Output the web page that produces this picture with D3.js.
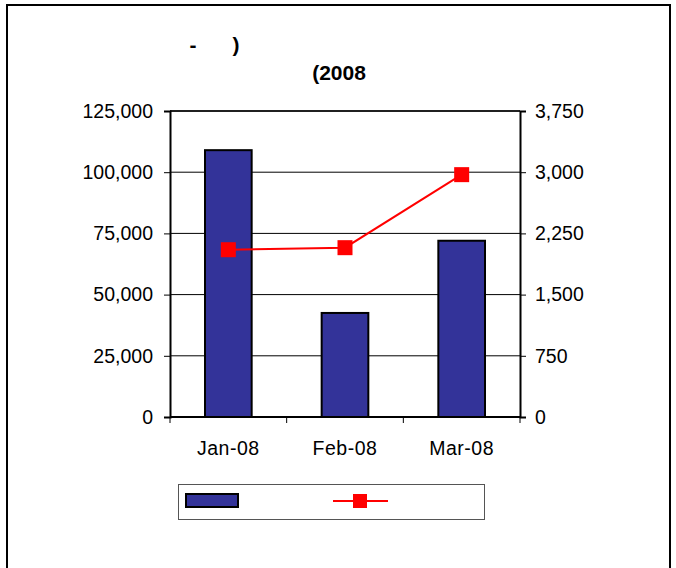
<html>

<head>
    <meta charset="UTF-8">
    <script src="https://d3js.org/d3.v7.min.js"></script>
    <style>
        body { margin: 0; background: #fff; }
        text { font-family: "Liberation Sans", Arial, sans-serif; }
    </style>
</head>

<body>
</body>
<script>
    // data
    var months = ["Jan-08", "Feb-08", "Mar-08"];
    var barValues = [109000, 42500, 72000];
    var lineValues = [2050, 2075, 2970];
    var leftTicks = [0, 25000, 50000, 75000, 100000, 125000];
    var rightTicks = [0, 750, 1500, 2250, 3000, 3750];

    var W = 676, H = 568;
    var plot = { left: 170, right: 520, top: 111, bottom: 417 };

    var svg = d3.select("body").append("svg")
        .attr("width", W)
        .attr("height", H);

    // outer frame (bottom edge runs off the page)
    svg.append("path")
        .attr("d", "M7,580 L7,5 L670,5 L670,580")
        .attr("fill", "none")
        .attr("stroke", "#000")
        .attr("stroke-width", 2);

    // title
    svg.append("text").attr("x", 193).attr("y", 52).attr("text-anchor", "middle")
        .style("font-size", "21px").style("font-weight", "bold").text("-");
    svg.append("text").attr("x", 236).attr("y", 52).attr("text-anchor", "middle")
        .style("font-size", "21px").style("font-weight", "bold").text(")");
    svg.append("text").attr("x", 339).attr("y", 80).attr("text-anchor", "middle")
        .style("font-size", "21px").style("font-weight", "bold").text("(2008");

    // scales
    var x = d3.scaleBand()
        .domain(months)
        .range([plot.left, plot.right])
        .paddingInner(0.6)
        .paddingOuter(0.3);
    var xStep = (plot.right - plot.left) / months.length;

    var yL = d3.scaleLinear().domain([0, 125000]).range([plot.bottom, plot.top]);
    var yR = d3.scaleLinear().domain([0, 3750]).range([plot.bottom, plot.top]);

    // gridlines
    svg.append("g")
        .selectAll("line")
        .data(leftTicks)
        .enter()
        .append("line")
        .attr("x1", plot.left).attr("x2", plot.right)
        .attr("y1", function (d) { return yL(d); })
        .attr("y2", function (d) { return yL(d); })
        .attr("stroke", "#000")
        .attr("stroke-width", 1);

    // plot box top
    svg.append("line")
        .attr("x1", plot.left).attr("x2", plot.right)
        .attr("y1", plot.top).attr("y2", plot.top)
        .attr("stroke", "#000").attr("stroke-width", 1.5);

    // bars
    svg.append("g")
        .selectAll("rect")
        .data(barValues)
        .enter()
        .append("rect")
        .attr("x", function (d, i) { return x(months[i]); })
        .attr("width", x.bandwidth())
        .attr("y", function (d) { return yL(d); })
        .attr("height", function (d) { return yL(0) - yL(d); })
        .attr("fill", "#333399")
        .attr("stroke", "#000")
        .attr("stroke-width", 2);

    // axes
    var fmt = d3.format(",");
    var left = svg.append("g")
        .attr("transform", "translate(" + plot.left + ",0)")
        .call(d3.axisLeft(yL).tickValues(leftTicks).tickFormat(fmt).tickSizeOuter(0).tickSize(6).tickPadding(11));
    var right = svg.append("g")
        .attr("transform", "translate(" + plot.right + ",0)")
        .call(d3.axisRight(yR).tickValues(rightTicks).tickFormat(fmt).tickSizeOuter(0).tickSize(6).tickPadding(9));
    var bottom = svg.append("g")
        .attr("transform", "translate(0," + plot.bottom + ")")
        .call(d3.axisBottom(x).tickSize(0).tickPadding(24));

    [left, right, bottom].forEach(function (g) {
        g.select(".domain").attr("stroke", "#000").attr("stroke-width", 2);
        g.selectAll("text")
            .attr("fill", "#000")
            .style("font-size", "19.5px")
            .style("font-family", "'Liberation Sans', Arial, sans-serif");
        g.selectAll(".tick line").attr("stroke", "#000");
    });
    bottom.select(".domain").attr("d", "M" + plot.left + ",0H" + plot.right);
    bottom.selectAll("text").style("letter-spacing", "0.5px");

    // category separator ticks
    svg.append("g")
        .selectAll("line")
        .data(d3.range(months.length + 1))
        .enter()
        .append("line")
        .attr("x1", function (d) { return plot.left + d * xStep; })
        .attr("x2", function (d) { return plot.left + d * xStep; })
        .attr("y1", plot.bottom)
        .attr("y2", plot.bottom + 6)
        .attr("stroke", "#000");

    // line series
    var cx = function (i) { return x(months[i]) + x.bandwidth() / 2; };
    svg.append("path")
        .datum(lineValues)
        .attr("d", d3.line()
            .x(function (d, i) { return cx(i); })
            .y(function (d) { return yR(d); }))
        .attr("fill", "none")
        .attr("stroke", "#ff0000")
        .attr("stroke-width", 2);

    svg.append("g")
        .selectAll("rect")
        .data(lineValues)
        .enter()
        .append("rect")
        .attr("x", function (d, i) { return cx(i) - 7.5; })
        .attr("y", function (d) { return yR(d) - 7.5; })
        .attr("width", 15)
        .attr("height", 15)
        .attr("fill", "#ff0000");

    // legend
    var lg = svg.append("g");
    lg.append("rect")
        .attr("x", 178.5).attr("y", 484.5)
        .attr("width", 306).attr("height", 35)
        .attr("fill", "#fff")
        .attr("stroke", "#555")
        .attr("stroke-width", 1);
    lg.append("rect")
        .attr("x", 186).attr("y", 494)
        .attr("width", 52).attr("height", 13)
        .attr("fill", "#333399")
        .attr("stroke", "#000")
        .attr("stroke-width", 2);
    lg.append("line")
        .attr("x1", 333).attr("x2", 388)
        .attr("y1", 501).attr("y2", 501)
        .attr("stroke", "#ff0000")
        .attr("stroke-width", 2);
    lg.append("rect")
        .attr("x", 353).attr("y", 494)
        .attr("width", 14).attr("height", 14)
        .attr("fill", "#ff0000");
</script>

</html>
